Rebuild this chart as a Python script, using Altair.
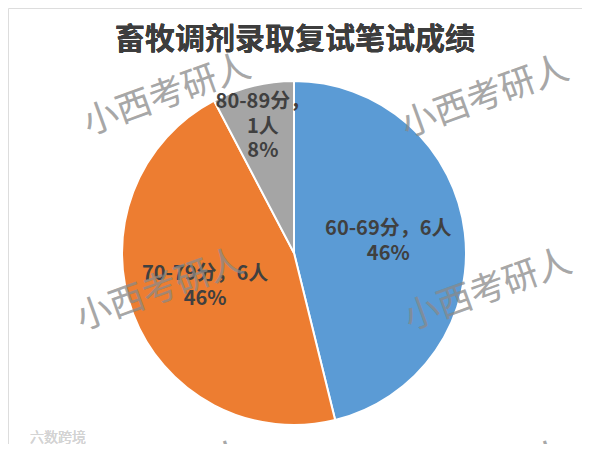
import altair as alt
import pandas as pd

# ---- data ----
categories = ["60-69分", "70-79分", "80-89分"]
counts = [6, 6, 1]
colors = ["#5B9BD5", "#ED7D31", "#A5A5A5"]
title_text = "畜牧调剂录取复试笔试成绩"
watermark = "小西考研人"
logo_text = "六数跨境"

total = sum(counts)
pcts = [round(c / total * 100) for c in counts]
labels = []
for cat, n, p in zip(categories, counts, pcts):
    if p < 20:
        labels.append(f"{cat}，\n{n}人\n{p}%")
    else:
        labels.append(f"{cat}，{n}人\n{p}%")

df = pd.DataFrame({
    "cat": categories,
    "n": counts,
    "order": list(range(len(categories))),
    "label": labels,
})

FONT = "Noto Sans CJK SC"
CX, CY, R = 286, 245, 172
LH = 24.5

base = alt.Chart(df).encode(
    theta=alt.Theta("n:Q", stack=True),
    order=alt.Order("order:Q"),
)

pie = base.mark_arc(stroke="white", strokeWidth=2).encode(
    x=alt.value(CX), y=alt.value(CY),
    radius=alt.value(R),
    color=alt.Color("cat:N", scale=alt.Scale(domain=categories, range=colors), legend=None),
)

lbl_style = dict(font=FONT, fontSize=20, fontWeight="bold", color="#404040",
                 lineBreak="\n", lineHeight=LH, align="center", baseline="middle")

big_labels = base.mark_text(dy=-LH / 2, **lbl_style).encode(
    x=alt.value(CX), y=alt.value(CY),
    radius=alt.value(95),
    text="label:N",
    opacity=alt.condition(alt.datum.n > 2, alt.value(1), alt.value(0)),
)
small_labels = base.mark_text(dy=-LH, **lbl_style).encode(
    x=alt.value(CX), y=alt.value(CY),
    radius=alt.value(130),
    text="label:N",
    opacity=alt.condition(alt.datum.n <= 2, alt.value(1), alt.value(0)),
)

title = alt.Chart(df).mark_text(
    font=FONT, fontSize=30, fontWeight="bold", color="#3d3d3d",
    align="center", baseline="middle",
).encode(x=alt.value(287), y=alt.value(32), text=alt.value(title_text))

layers = [pie, big_labels, small_labels, title]

wm_pos = [(159, 87), (477, 89), (152, 282), (480, 282), (157, 474), (477, 474)]
for wx, wy in wm_pos:
    layers.append(
        alt.Chart(df).mark_text(
            font=FONT, fontSize=35, fontWeight="normal", color="#8a8a8a",
            opacity=0.36, angle=340, align="center", baseline="middle",
        ).encode(x=alt.value(wx), y=alt.value(wy), text=alt.value(watermark))
    )

layers.append(
    alt.Chart(df).mark_text(
        font=FONT, fontSize=14, color="#d4d4d4", align="left", baseline="middle",
    ).encode(x=alt.value(22), y=alt.value(430), text=alt.value(logo_text))
)

chart = alt.layer(*layers).properties(
    width=574, height=436, padding=0,
    autosize=alt.AutoSizeParams(type="none"),
).configure_view(stroke=None).configure(background="white")

chart.save("out.html", embed_options={"renderer": "svg", "actions": False})
